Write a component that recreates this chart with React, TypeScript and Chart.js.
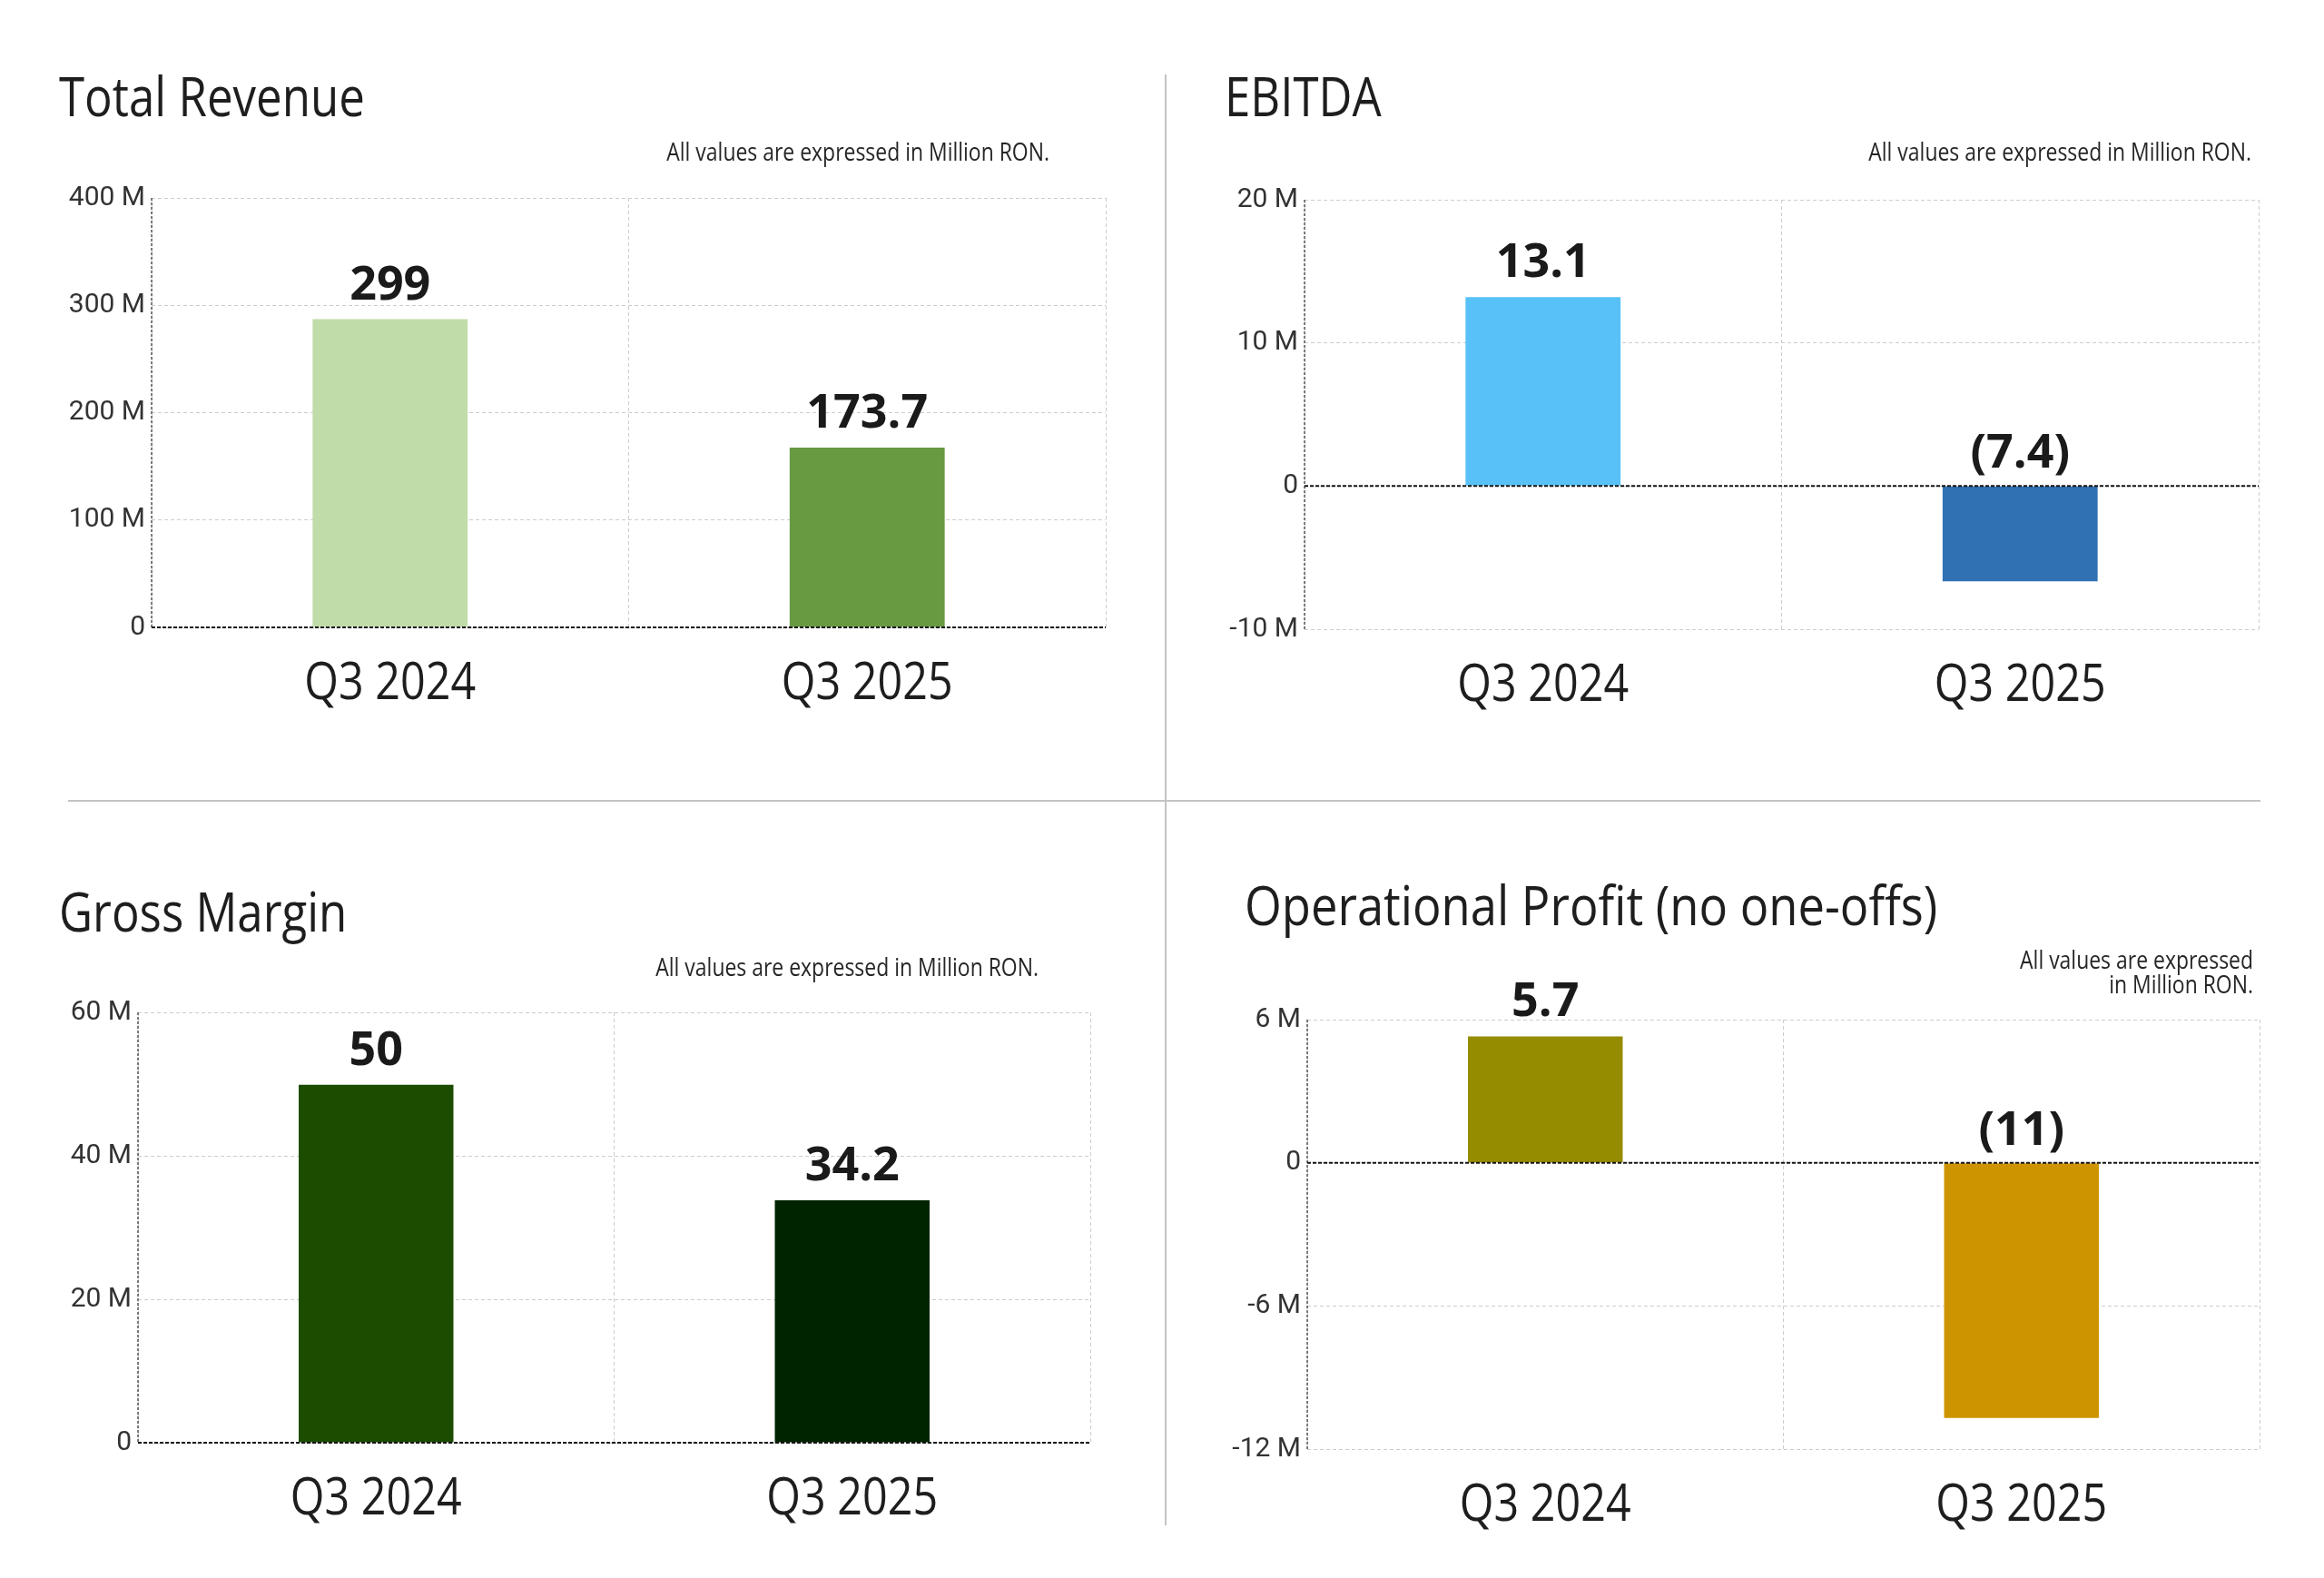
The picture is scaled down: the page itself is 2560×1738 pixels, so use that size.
import React, { useEffect, useRef } from 'react';
import { Chart, registerables } from 'chart.js';

Chart.register(...registerables);

// ---------- DATA ----------
const categories = ['Q3 2024', 'Q3 2025'];

const revenueValues = [287, 167.4];
const revenueLabels = ['299', '173.7'];
const revenueTicks = { min: 0, max: 400, step: 100 };

const ebitdaValues = [13.2, -6.65];
const ebitdaLabels = ['13.1', '(7.4)'];
const ebitdaTicks = { min: -10, max: 20, step: 10 };

const grossValues = [49.9, 33.8];
const grossLabels = ['50', '34.2'];
const grossTicks = { min: 0, max: 60, step: 20 };

const opValues = [5.3, -10.7];
const opLabels = ['5.7', '(11)'];
const opTicks = { min: -12, max: 6, step: 6 };

const noteOneLine = ['All values are expressed in Million RON.'];
const noteTwoLines = ['All values are expressed', 'in Million RON.'];

// ---------- STYLE ----------
const revenueColors = ['#C0DCA8', '#679A41'];
const ebitdaColors = ['#57C1F8', '#3071B4'];
const grossColors = ['#1C4C00', '#002400'];
const opColors = ['#968C00', '#CE9400'];

const TEXT_FONT = '"Open Sans", "Noto Sans", sans-serif';
const SX = 0.85; // horizontal compression to mimic a narrow humanist face

type Layout = {
  left: number; top: number; w: number; h: number;
  area: { l: number; r: number; t: number; b: number };
  title: { x: number; y: number; sx: number };
  note: { x: number; y: number; lh: number };
};

const layouts: Record<string, Layout> = {
  revenue: { left: 0, top: 0, w: 1280, h: 880, area: { l: 167, r: 1218, t: 218, b: 691 }, title: { x: 65, y: 128, sx: SX }, note: { x: 1156, y: 177, lh: 27 } },
  ebitda: { left: 1280, top: 0, w: 1280, h: 880, area: { l: 157, r: 1208, t: 220, b: 693 }, title: { x: 69, y: 128, sx: SX }, note: { x: 1200, y: 177, lh: 27 } },
  gross: { left: 0, top: 880, w: 1280, h: 858, area: { l: 152, r: 1201, t: 235, b: 709 }, title: { x: 65, y: 146, sx: SX }, note: { x: 1144, y: 195, lh: 27 } },
  op: { left: 1280, top: 880, w: 1280, h: 858, area: { l: 160, r: 1209, t: 243, b: 716 }, title: { x: 91, y: 139, sx: 0.875 }, note: { x: 1202, y: 187, lh: 27 } },
};

function drawText(ctx: CanvasRenderingContext2D, text: string, x: number, y: number, font: string, color: string, align: CanvasTextAlign, sx: number) {
  ctx.save();
  ctx.font = font;
  ctx.fillStyle = color;
  ctx.textBaseline = 'alphabetic';
  ctx.textAlign = align;
  ctx.translate(x, y);
  ctx.scale(sx, 1);
  ctx.fillText(text, 0, 0);
  ctx.restore();
}

type PanelProps = {
  layout: Layout;
  title: string;
  note: string[];
  values: number[];
  labels: string[];
  colors: string[];
  ticks: { min: number; max: number; step: number };
};

const AXIS_W = 140;

function Panel({ layout, title, note, values, labels, colors, ticks }: PanelProps) {
  const ref = useRef<HTMLCanvasElement | null>(null);

  useEffect(() => {
    if (!ref.current) return;
    const a = layout.area;
    const decor = {
      id: 'decor',
      afterDatasetsDraw(chart: any) {
        const { ctx, chartArea, scales } = chart;
        const ys = scales.y;
        const xs = scales.x;
        const zeroY = ys.getPixelForValue(0);
        ctx.save();
        ctx.strokeStyle = '#555555';
        ctx.lineWidth = 1.5;
        ctx.setLineDash([3, 2]);
        ctx.beginPath();
        ctx.moveTo(chartArea.left, chartArea.top);
        ctx.lineTo(chartArea.left, chartArea.bottom);
        ctx.stroke();
        ctx.strokeStyle = '#151515';
        ctx.lineWidth = 2;
        ctx.setLineDash([4, 2]);
        ctx.beginPath();
        ctx.moveTo(chartArea.left, zeroY);
        ctx.lineTo(chartArea.right, zeroY);
        ctx.stroke();
        ctx.restore();

        const meta = chart.getDatasetMeta(0);
        meta.data.forEach((el: any, i: number) => {
          const v = chart.data.datasets[0].data[i] as number;
          const yy = v >= 0 ? el.y - 22 : zeroY - 20;
          drawText(ctx, labels[i], el.x, yy, `bold 52px ${TEXT_FONT}`, '#1a1a1a', 'center', 1);
        });

        chart.data.labels.forEach((c: string, i: number) => {
          drawText(ctx, c, xs.getPixelForValue(i), chartArea.bottom + 79, `57px ${TEXT_FONT}`, '#1e1e1e', 'center', SX);
        });
      },
      afterDraw(chart: any) {
        const { ctx } = chart;
        drawText(ctx, title, layout.title.x, layout.title.y, `60px ${TEXT_FONT}`, '#1e1e1e', 'left', layout.title.sx);
        note.forEach((line, i) => {
          drawText(ctx, line, layout.note.x, layout.note.y + i * layout.note.lh, `27px ${TEXT_FONT}`, '#262626', 'right', SX);
        });
      },
    };

    const chart = new Chart(ref.current, {
      type: 'bar',
      data: {
        labels: categories,
        datasets: [
          {
            data: values,
            backgroundColor: colors,
            borderWidth: 0,
            barPercentage: 0.325,
            categoryPercentage: 1,
          },
        ],
      },
      options: {
        animation: false,
        responsive: false,
        layout: {
          padding: { left: a.l - AXIS_W, right: layout.w - a.r, top: a.t, bottom: layout.h - a.b },
        },
        plugins: { legend: { display: false }, tooltip: { enabled: false }, title: { display: false } },
        scales: {
          x: {
            offset: true,
            ticks: { display: false },
            grid: { color: '#cdcdcd', lineWidth: 1, drawTicks: false, offset: true },
            border: { display: false, dash: [4, 3] },
            afterFit: (s: any) => { s.height = 0; },
          },
          y: {
            min: ticks.min,
            max: ticks.max,
            ticks: {
              stepSize: ticks.step,
              padding: 7,
              color: '#333333',
              font: { family: 'Roboto', size: 30 },
              callback: (v: any) => (Number(v) === 0 ? '0' : `${v} M`),
            },
            grid: { color: '#cdcdcd', lineWidth: 1, drawTicks: false },
            border: { display: false, dash: [4, 3] },
            afterFit: (s: any) => { s.width = AXIS_W; },
          },
        },
      },
      plugins: [decor],
    } as any);
    return () => chart.destroy();
  }, [layout, title, note, values, labels, colors, ticks]);

  return (
    <canvas
      ref={ref}
      width={layout.w}
      height={layout.h}
      style={{ position: 'absolute', left: layout.left, top: layout.top, width: layout.w, height: layout.h }}
    />
  );
}

export default function App() {
  return (
    <div style={{ position: 'absolute', left: 0, top: 0, width: 2560, height: 1738, background: '#ffffff', overflow: 'hidden' }}>
      <Panel layout={layouts.revenue} title="Total Revenue" note={noteOneLine} values={revenueValues} labels={revenueLabels} colors={revenueColors} ticks={revenueTicks} />
      <Panel layout={layouts.ebitda} title="EBITDA" note={noteOneLine} values={ebitdaValues} labels={ebitdaLabels} colors={ebitdaColors} ticks={ebitdaTicks} />
      <Panel layout={layouts.gross} title="Gross Margin" note={noteOneLine} values={grossValues} labels={grossLabels} colors={grossColors} ticks={grossTicks} />
      <Panel layout={layouts.op} title="Operational Profit (no one-offs)" note={noteTwoLines} values={opValues} labels={opLabels} colors={opColors} ticks={opTicks} />
      <div style={{ position: 'absolute', left: 1283, top: 82, width: 2, height: 1598, background: '#c4c4c4' }} />
      <div style={{ position: 'absolute', left: 75, top: 881, width: 2415, height: 2, background: '#c4c4c4' }} />
    </div>
  );
}
